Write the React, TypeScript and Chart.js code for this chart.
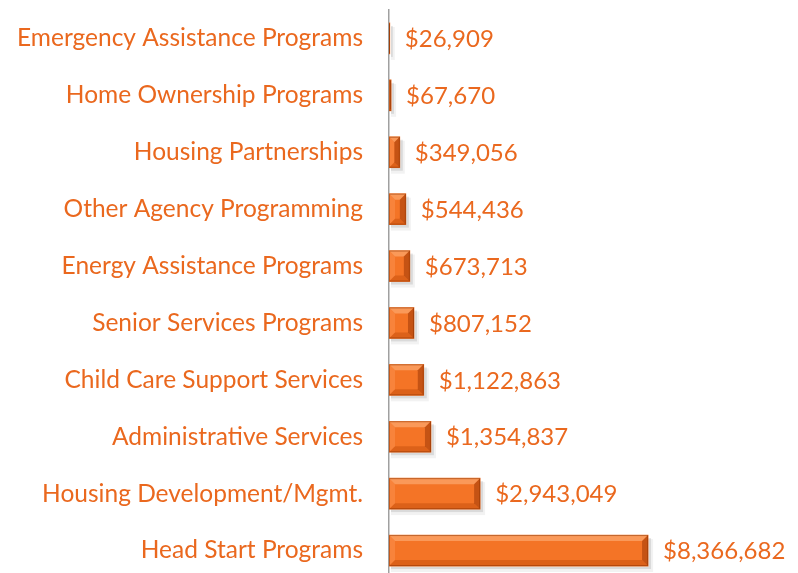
import React, { useEffect, useRef } from "react";
import { Chart, registerables } from "chart.js";

Chart.register(...registerables);

const categories = [
  "Emergency Assistance Programs",
  "Home Ownership Programs",
  "Housing Partnerships",
  "Other Agency Programming",
  "Energy Assistance Programs",
  "Senior Services Programs",
  "Child Care Support Services",
  "Administrative Services",
  "Housing Development/Mgmt.",
  "Head Start Programs",
];

const amounts = [26909, 67670, 349056, 544436, 673713, 807152, 1122863, 1354837, 2943049, 8366682];

const TEXT_COLOR = "#EA681E";
const BAR_COLOR = "#F47426";
const FONT_FAMILY = "Lato, 'Open Sans', sans-serif";
const LABEL_SIZE = 24.5;
const VALUE_SIZE = 24;

const fmt = (v: number) => "$" + v.toLocaleString("en-US");

const bevelPlugin = {
  id: "bevel",
  beforeDatasetsDraw(chart: any) {
    const ctx = chart.ctx;
    const meta = chart.getDatasetMeta(0);
    ctx.save();
    meta.data.forEach((el: any) => {
      const { x, y, base, height } = el.getProps(["x", "y", "base", "height"], true);
      const top = y - height / 2;
      ctx.fillStyle = "rgba(0,0,0,0.10)";
      ctx.fillRect(base + 2, top + 3, x - base + 1, height);
      ctx.fillStyle = "rgba(0,0,0,0.05)";
      ctx.fillRect(base + 2, top + 4, x - base + 3, height + 2);
    });
    ctx.restore();
  },
  afterDatasetsDraw(chart: any) {
    const ctx = chart.ctx;
    const meta = chart.getDatasetMeta(0);
    ctx.save();
    meta.data.forEach((el: any, i: number) => {
      const { x, y, base, height } = el.getProps(["x", "y", "base", "height"], true);
      const l = base;
      const r = x;
      const t = y - height / 2;
      const b = y + height / 2;
      const w = r - l;
      const bv = Math.min(6, w / 2, height / 2);
      // top bevel (light)
      ctx.fillStyle = "rgba(255,190,140,0.5)";
      ctx.beginPath();
      ctx.moveTo(l, t);
      ctx.lineTo(r, t);
      ctx.lineTo(r - bv, t + bv);
      ctx.lineTo(l + bv, t + bv);
      ctx.closePath();
      ctx.fill();
      // left bevel (light)
      ctx.fillStyle = "rgba(255,160,100,0.35)";
      ctx.beginPath();
      ctx.moveTo(l, t);
      ctx.lineTo(l + bv, t + bv);
      ctx.lineTo(l + bv, b - bv);
      ctx.lineTo(l, b);
      ctx.closePath();
      ctx.fill();
      // bottom bevel (dark)
      ctx.fillStyle = "rgba(170,60,0,0.32)";
      ctx.beginPath();
      ctx.moveTo(l, b);
      ctx.lineTo(l + bv, b - bv);
      ctx.lineTo(r - bv, b - bv);
      ctx.lineTo(r, b);
      ctx.closePath();
      ctx.fill();
      // right bevel (dark)
      ctx.fillStyle = "rgba(140,45,0,0.45)";
      ctx.beginPath();
      ctx.moveTo(r, t);
      ctx.lineTo(r, b);
      ctx.lineTo(r - bv, b - bv);
      ctx.lineTo(r - bv, t + bv);
      ctx.closePath();
      ctx.fill();
      // outline
      ctx.strokeStyle = "rgba(140,50,0,0.5)";
      ctx.lineWidth = 1;
      ctx.strokeRect(l + 0.5, t + 0.5, Math.max(w - 1, 0), height - 1);

      // value label
      ctx.fillStyle = TEXT_COLOR;
      ctx.font = `${VALUE_SIZE}px ${FONT_FAMILY}`;
      ctx.textAlign = "left";
      ctx.textBaseline = "middle";
      ctx.fillText(fmt(amounts[i]), r + 15, y + 1);
    });
    ctx.restore();
  },
};

export default function App() {
  const ref = useRef<HTMLCanvasElement | null>(null);

  useEffect(() => {
    if (!ref.current) return;
    const chart = new Chart(ref.current, {
      type: "bar",
      data: {
        labels: categories,
        datasets: [
          {
            data: amounts,
            backgroundColor: BAR_COLOR,
            barThickness: 31,
            borderWidth: 0,
          },
        ],
      },
      options: {
        indexAxis: "y",
        responsive: false,
        animation: false,
        layout: { autoPadding: false, padding: { top: 10, bottom: 2, right: 8, left: 0 } },
        plugins: { legend: { display: false }, tooltip: { enabled: false } },
        scales: {
          x: { display: false, min: 0, max: 12950000 },
          y: {
            afterFit: (scale: any) => {
              scale.width = 389;
              scale.paddingTop = 0;
              scale.paddingBottom = 0;
            },
            grid: { display: false, drawTicks: false },
            border: { display: true, color: "#A0A0A0", width: 1.5 },
            ticks: {
              color: TEXT_COLOR,
              padding: 26,
              font: { family: FONT_FAMILY, size: LABEL_SIZE },
            },
          },
        },
      },
      plugins: [bevelPlugin],
    });
    return () => chart.destroy();
  }, []);

  return (
    <div style={{ position: "absolute", left: 0, top: 0, width: 798, height: 573, overflow: "hidden", background: "#fff" }}>
      <canvas ref={ref} width={798} height={581} style={{ display: "block" }} />
    </div>
  );
}
